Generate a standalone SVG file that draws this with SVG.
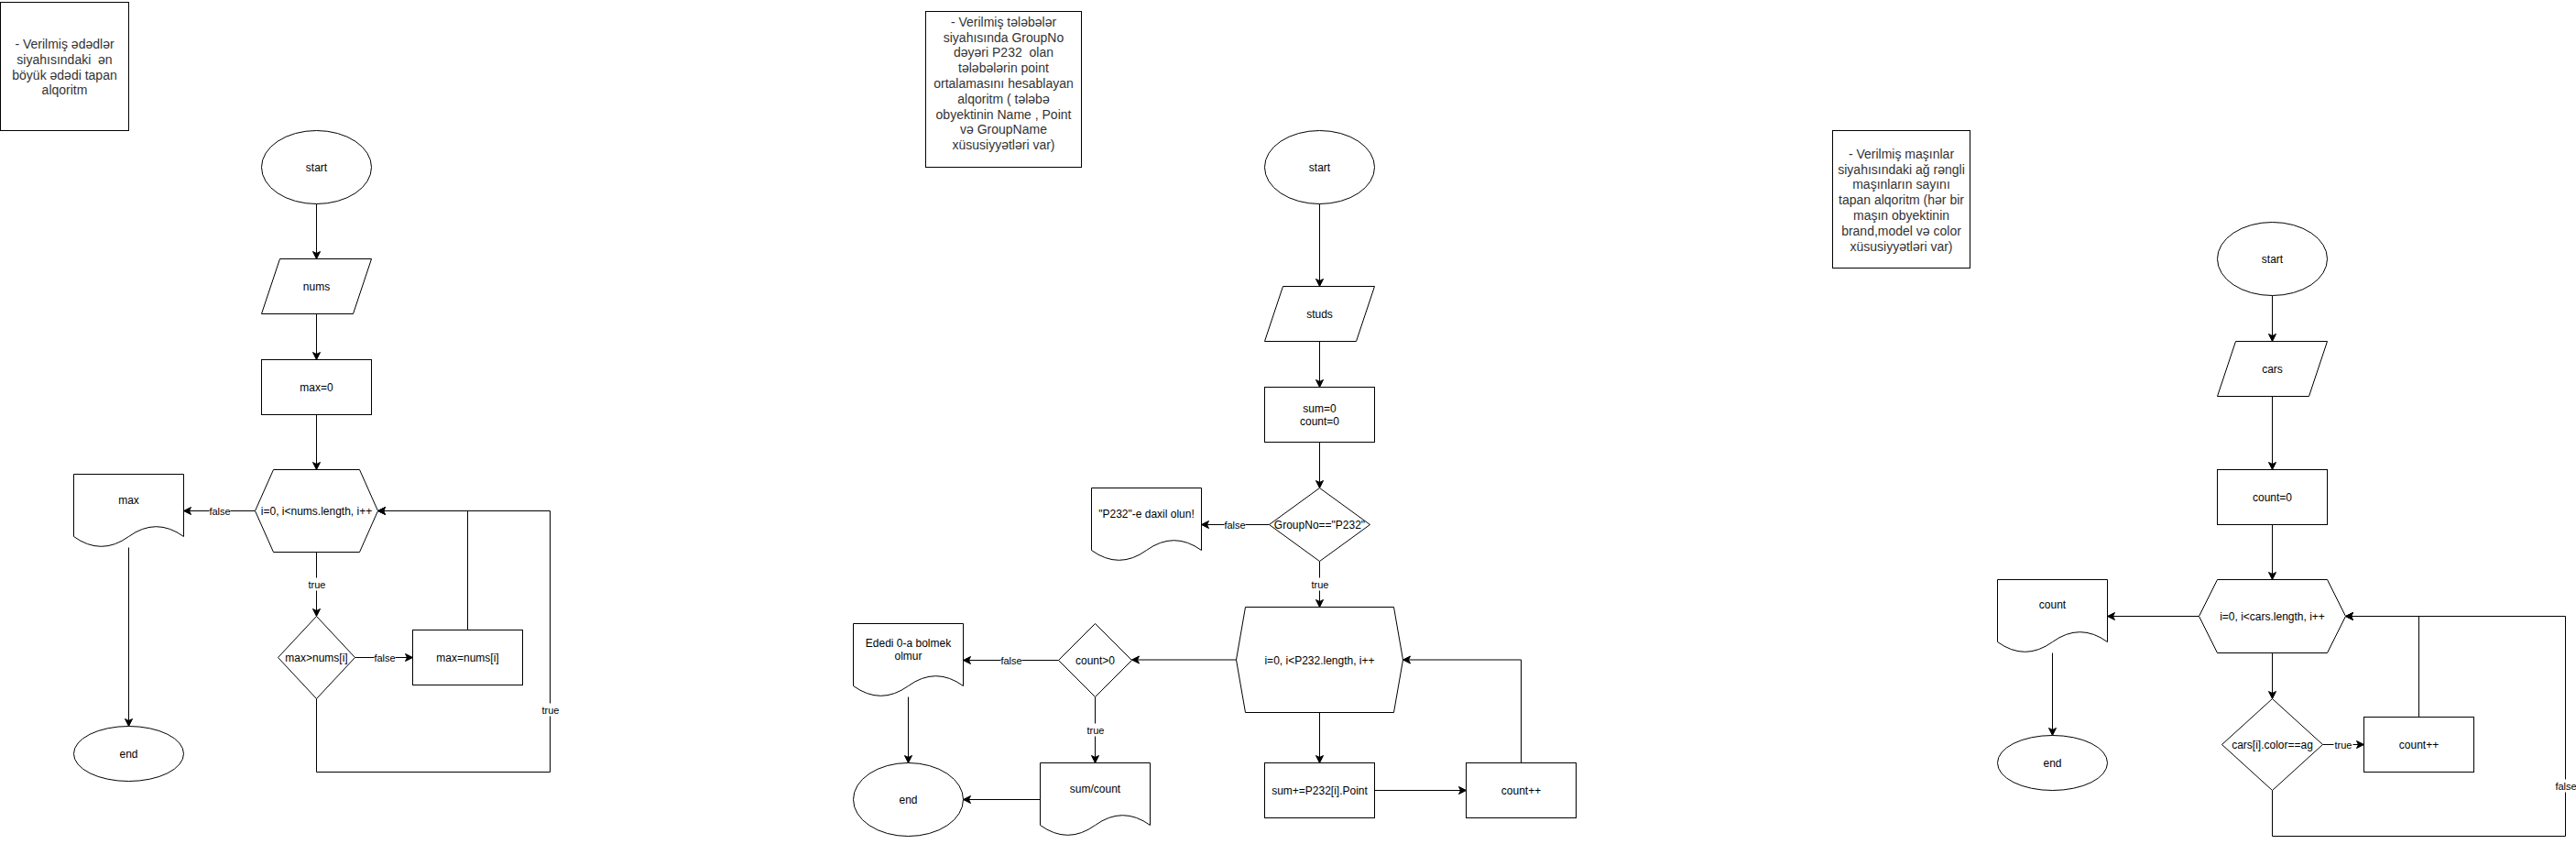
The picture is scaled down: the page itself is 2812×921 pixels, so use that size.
<svg xmlns="http://www.w3.org/2000/svg" width="2812" height="921" viewBox="0 0 2812 921">
<style>
.s{fill:#fff;stroke:#000;stroke-width:1}
.t{font-family:"Liberation Sans",Arial,sans-serif;font-size:12px;fill:#000;text-anchor:middle}
.n{font-family:"Liberation Sans",Arial,sans-serif;font-size:14px;fill:#333;text-anchor:middle}
.l{font-family:"Liberation Sans",Arial,sans-serif;font-size:11px;fill:#000;text-anchor:middle}
.c{fill:none;stroke:#000;stroke-width:1}
.a{marker-end:url(#arr)}
.bg{fill:#fff;stroke:none}
</style>
<defs>
<marker id="arr" viewBox="-9 -5 10 10" refX="0" refY="0" markerWidth="10" markerHeight="10" markerUnits="userSpaceOnUse" orient="auto">
<path d="M0,0 L-8,-4 L-6,0 L-8,4 Z" fill="#000" stroke="#000" stroke-width="1" stroke-linejoin="miter"/>
</marker>
</defs>
<rect x="0" y="0" width="2812" height="921" fill="#fff"/>
<g transform="translate(0.5,0.5)">

<!-- connectors -->
<g id="connectors">
<!-- chart 1 -->
<path class="c a" d="M345,222 L345,282"/>
<path class="c a" d="M345,342 L345,392"/>
<path class="c a" d="M345,452 L345,512"/>
<path class="c a" d="M345,602 L345,672"/>
<path class="c a" d="M278,557 L200,557"/>
<path class="c a" d="M140,597 L140,792"/>
<path class="c a" d="M387,717 L450,717"/>
<path class="c a" d="M510,687 L510,557 L412,557"/>
<path class="c a" d="M345,762 L345,842 L600,842 L600,557 L412,557"/>
<rect class="bg" x="335" y="630" width="21" height="14"/><text class="l" x="345.5" y="641">true</text>
<rect class="bg" x="228" y="550" width="23" height="14"/><text class="l" x="239.5" y="561">false</text>
<rect class="bg" x="408" y="710" width="23" height="14"/><text class="l" x="419.5" y="721">false</text>
<rect class="bg" x="590" y="767" width="21" height="14"/><text class="l" x="600.5" y="778">true</text>

<!-- chart 2 -->
<path class="c a" d="M1440,222 L1440,312"/>
<path class="c a" d="M1440,372 L1440,422"/>
<path class="c a" d="M1440,482 L1440,532"/>
<path class="c a" d="M1385,572 L1311,572"/>
<path class="c a" d="M1440,612 L1440,662"/>
<path class="c a" d="M1349,719.5 L1235,719.5"/>
<path class="c a" d="M1155,720 L1051,720"/>
<path class="c a" d="M991,760 L991,832"/>
<path class="c a" d="M1195,760 L1195,832"/>
<path class="c a" d="M1135,872 L1051,872"/>
<path class="c a" d="M1440,777 L1440,832"/>
<path class="c a" d="M1500,862 L1600,862"/>
<path class="c a" d="M1660,832 L1660,719.5 L1531,719.5"/>
<rect class="bg" x="1336" y="565" width="23" height="14"/><text class="l" x="1347.5" y="576">false</text>
<rect class="bg" x="1430" y="630" width="21" height="14"/><text class="l" x="1440.5" y="641">true</text>
<rect class="bg" x="1092" y="713" width="23" height="14"/><text class="l" x="1103.5" y="724">false</text>
<rect class="bg" x="1185" y="789" width="21" height="14"/><text class="l" x="1195.5" y="800">true</text>

<!-- chart 3 -->
<path class="c a" d="M2480,322 L2480,372"/>
<path class="c a" d="M2480,432 L2480,512"/>
<path class="c a" d="M2480,572 L2480,632"/>
<path class="c a" d="M2400,672 L2300,672"/>
<path class="c a" d="M2240,712 L2240,802"/>
<path class="c a" d="M2480,712 L2480,762"/>
<path class="c a" d="M2535,812 L2580,812"/>
<path class="c a" d="M2640,782 L2640,672 L2560,672"/>
<path class="c a" d="M2480,862 L2480,912 L2800,912 L2800,672 L2560,672"/>
<rect class="bg" x="2547" y="805" width="21" height="14"/><text class="l" x="2557.5" y="816">true</text>
<rect class="bg" x="2789" y="850" width="23" height="14"/><text class="l" x="2800.5" y="861">false</text>
</g>

<!-- chart 1 nodes -->
<g id="note1">
<rect class="s" x="0" y="2" width="140" height="140"/>
<text class="n" x="70" y="52.5"> - Verilmiş ədədlər</text>
<text class="n" x="70" y="69.3" xml:space="preserve">siyahısındaki  ən</text>
<text class="n" x="70" y="86.1">böyük ədədi tapan</text>
<text class="n" x="70" y="102.9">alqoritm</text>
</g>
<g id="start1"><ellipse class="s" cx="345" cy="182" rx="60" ry="40"/><text class="t" x="345" y="186">start</text></g>
<g id="nums"><path class="s" d="M305,282 L405,282 L385,342 L285,342 Z"/><text class="t" x="345" y="316">nums</text></g>
<g id="max0"><rect class="s" x="285" y="392" width="120" height="60"/><text class="t" x="345" y="426">max=0</text></g>
<g id="loop1"><path class="s" d="M298,512 L392,512 L412,557 L392,602 L298,602 L278,557 Z"/><text class="t" x="345" y="561">i=0, i&lt;nums.length, i++</text></g>
<g id="maxdoc"><path class="s" d="M80,517 L200,517 L200,585 Q170,563.4 140,585 Q110,606.6 80,585 Z"/><text class="t" x="140" y="549">max</text></g>
<g id="end1"><ellipse class="s" cx="140" cy="822" rx="60" ry="30"/><text class="t" x="140" y="826">end</text></g>
<g id="cond1"><path class="s" d="M345,672 L387,717 L345,762 L303,717 Z"/><text class="t" x="345" y="721">max&gt;nums[i]</text></g>
<g id="assign1"><rect class="s" x="450" y="687" width="120" height="60"/><text class="t" x="510" y="721">max=nums[i]</text></g>

<!-- chart 2 nodes -->
<g id="note2">
<rect class="s" x="1010" y="12" width="170" height="170"/>
<text class="n" x="1095" y="28.3">- Verilmiş tələbələr</text>
<text class="n" x="1095" y="45.1">siyahısında GroupNo</text>
<text class="n" x="1095" y="61.9" xml:space="preserve">dəyəri P232  olan</text>
<text class="n" x="1095" y="78.7">tələbələrin point</text>
<text class="n" x="1095" y="95.5">ortalamasını hesablayan</text>
<text class="n" x="1095" y="112.3">alqoritm ( tələbə</text>
<text class="n" x="1095" y="129.1">obyektinin Name , Point</text>
<text class="n" x="1095" y="145.9">və GroupName</text>
<text class="n" x="1095" y="162.7">xüsusiyyətləri var)</text>
</g>
<g id="start2"><ellipse class="s" cx="1440" cy="182" rx="60" ry="40"/><text class="t" x="1440" y="186">start</text></g>
<g id="studs"><path class="s" d="M1400,312 L1500,312 L1480,372 L1380,372 Z"/><text class="t" x="1440" y="346">studs</text></g>
<g id="init2"><rect class="s" x="1380" y="422" width="120" height="60"/><text class="t" x="1440" y="449">sum=0</text><text class="t" x="1440" y="463.5">count=0</text></g>
<g id="group"><path class="s" d="M1440,532 L1495,572 L1440,612 L1385,572 Z"/><text class="t" x="1440" y="576">GroupNo=="P232"</text></g>
<g id="p232doc"><path class="s" d="M1191,532 L1311,532 L1311,600 Q1281,578.4 1251,600 Q1221,621.6 1191,600 Z"/><text class="t" x="1251" y="564">"P232"-e daxil olun!</text></g>
<g id="loop2"><path class="s" d="M1359,662 L1521,662 L1531,719.5 L1521,777 L1359,777 L1349,719.5 Z"/><text class="t" x="1440" y="724">i=0, i&lt;P232.length, i++</text></g>
<g id="sumadd"><rect class="s" x="1380" y="832" width="120" height="60"/><text class="t" x="1440" y="866">sum+=P232[i].Point</text></g>
<g id="countinc2"><rect class="s" x="1600" y="832" width="120" height="60"/><text class="t" x="1660" y="866">count++</text></g>
<g id="countgt"><path class="s" d="M1195,680 L1235,720 L1195,760 L1155,720 Z"/><text class="t" x="1195" y="724">count&gt;0</text></g>
<g id="zerodoc"><path class="s" d="M931,680 L1051,680 L1051,748 Q1021,726.4 991,748 Q961,769.6 931,748 Z"/><text class="t" x="991" y="705">Ededi 0-a bolmek</text><text class="t" x="991" y="719.5">olmur</text></g>
<g id="avgdoc"><path class="s" d="M1135,832 L1255,832 L1255,900 Q1225,878.4 1195,900 Q1165,921.6 1135,900 Z"/><text class="t" x="1195" y="864">sum/count</text></g>
<g id="end2"><ellipse class="s" cx="991" cy="872" rx="60" ry="40"/><text class="t" x="991" y="876">end</text></g>

<!-- chart 3 nodes -->
<g id="note3">
<rect class="s" x="2000" y="142" width="150" height="150"/>
<text class="n" x="2075" y="172.3">- Verilmiş maşınlar</text>
<text class="n" x="2075" y="189.1">siyahısındaki ağ rəngli</text>
<text class="n" x="2075" y="205.9">maşınların sayını</text>
<text class="n" x="2075" y="222.7">tapan alqoritm (hər bir</text>
<text class="n" x="2075" y="239.5">maşın obyektinin</text>
<text class="n" x="2075" y="256.3">brand,model və color</text>
<text class="n" x="2075" y="273.1">xüsusiyyətləri var)</text>
</g>
<g id="start3"><ellipse class="s" cx="2480" cy="282" rx="60" ry="40"/><text class="t" x="2480" y="286">start</text></g>
<g id="cars"><path class="s" d="M2440,372 L2540,372 L2520,432 L2420,432 Z"/><text class="t" x="2480" y="406">cars</text></g>
<g id="count0"><rect class="s" x="2420" y="512" width="120" height="60"/><text class="t" x="2480" y="546">count=0</text></g>
<g id="loop3"><path class="s" d="M2420,632 L2540,632 L2560,672 L2540,712 L2420,712 L2400,672 Z"/><text class="t" x="2480" y="676">i=0, i&lt;cars.length, i++</text></g>
<g id="countdoc"><path class="s" d="M2180,632 L2300,632 L2300,700 Q2270,678.4 2240,700 Q2210,721.6 2180,700 Z"/><text class="t" x="2240" y="663">count</text></g>
<g id="end3"><ellipse class="s" cx="2240" cy="832" rx="60" ry="30"/><text class="t" x="2240" y="836">end</text></g>
<g id="color"><path class="s" d="M2480,762 L2535,812 L2480,862 L2425,812 Z"/><text class="t" x="2480" y="816">cars[i].color==ag</text></g>
<g id="countinc3"><rect class="s" x="2580" y="782" width="120" height="60"/><text class="t" x="2640" y="816">count++</text></g>
</g>
</svg>
